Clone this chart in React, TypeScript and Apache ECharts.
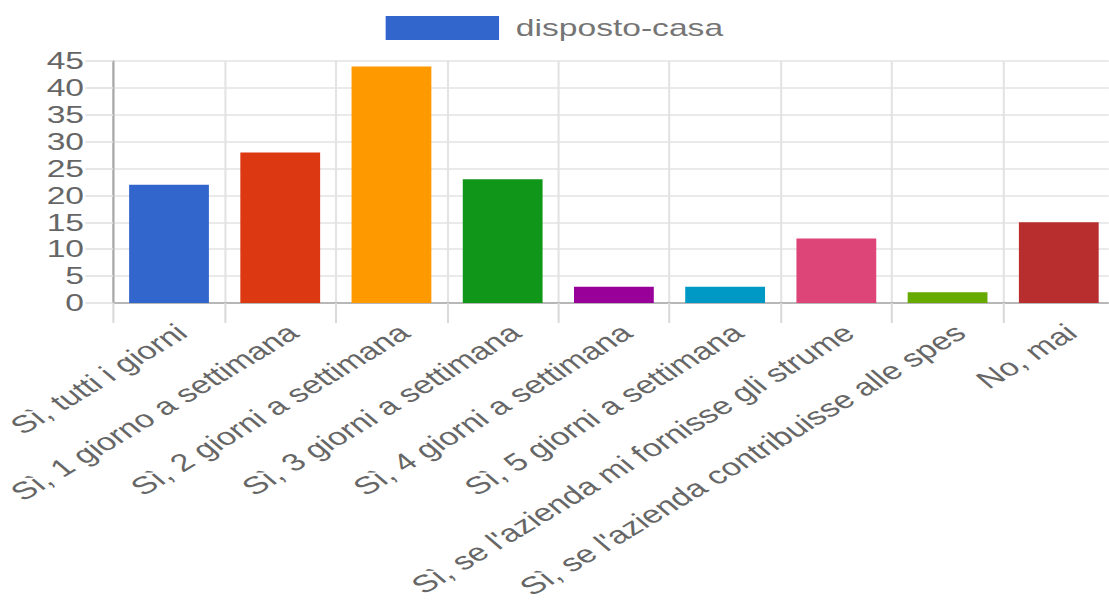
import React, { useEffect, useRef } from "react";
import * as echarts from "echarts";

const categories = [
  "Sì, tutti i giorni",
  "Sì, 1 giorno a settimana",
  "Sì, 2 giorni a settimana",
  "Sì, 3 giorni a settimana",
  "Sì, 4 giorni a settimana",
  "Sì, 5 giorni a settimana",
  "Sì, se l'azienda mi fornisse gli strume",
  "Sì, se l'azienda contribuisse alle spes",
  "No, mai",
];
const values = [22, 28, 44, 23, 3, 3, 12, 2, 15];
const colors = [
  "#3366cc",
  "#dc3912",
  "#ff9900",
  "#109618",
  "#990099",
  "#0099c6",
  "#dd4477",
  "#66aa00",
  "#b82e2e",
];
const seriesName = "disposto-casa";

const STRETCH = 1.4;
const W = 1109;
const H = 602;
const FONT = "'Liberation Sans', Arial, sans-serif";

export default function App() {
  const ref = useRef<HTMLDivElement>(null);
  useEffect(() => {
    if (!ref.current) return;
    const chart = echarts.init(ref.current, undefined, { renderer: "svg" });
    chart.setOption({
      animation: false,
      legend: {
        show: true,
        top: 11,
        left: "center",
        itemWidth: 81,
        itemHeight: 24,
        itemGap: 12,
        icon: "rect",
        textStyle: { fontFamily: FONT, fontSize: 24, color: "#757575", padding: [0, 0, 0, 7] },
        data: [{ name: seriesName, itemStyle: { color: colors[0] } }],
      },
      grid: [
        { left: 81, right: -4, top: 61, bottom: 299, containLabel: false, outerBoundsMode: "none" },
        // label-only grid, shifted slightly right so the slanted labels sit like the reference
        { left: 90, right: -13, top: 61, bottom: 299, containLabel: false, outerBoundsMode: "none" },
      ],
      xAxis: [
        {
          type: "category",
          gridIndex: 0,
          data: categories,
          axisLine: { show: true, lineStyle: { color: "#a6a6a6", width: 1.5 } },
          axisTick: { show: true, interval: 0, length: 20, lineStyle: { color: "#dadada", width: 1.5 } },
          splitLine: { show: true, interval: 0, lineStyle: { color: "#e3e3e3", width: 1.5 } },
          axisLabel: { show: false, interval: 0 },
        },
        {
          type: "category",
          gridIndex: 1,
          data: categories,
          axisLine: { show: false },
          axisTick: { show: false },
          splitLine: { show: false },
          axisLabel: {
            rotate: 40,
            margin: 26,
            interval: 0,
            fontFamily: FONT,
            fontSize: 24.5,
            color: "#666666",
          },
        },
      ],
      yAxis: [
        {
          type: "value",
          gridIndex: 0,
          min: 0,
          max: 45,
          interval: 5,
          axisLine: { show: true, lineStyle: { color: "#a6a6a6", width: 1.5 } },
          axisTick: { show: true, length: 20, lineStyle: { color: "#dedede", width: 1.5 } },
          splitLine: { show: true, lineStyle: { color: "#e3e3e3", width: 1.5 } },
          axisLabel: {
            margin: 21,
            fontFamily: FONT,
            fontSize: 24,
            color: "#666666",
          },
        },
        {
          type: "value",
          gridIndex: 1,
          min: 0,
          max: 45,
          interval: 5,
          show: false,
        },
      ],
      series: [
        {
          name: seriesName,
          type: "bar",
          xAxisIndex: 0,
          yAxisIndex: 0,
          barWidth: 57,
          data: values.map((v, i) => ({ value: v, itemStyle: { color: colors[i] } })),
        },
      ],
    });
    return () => chart.dispose();
  }, []);
  return (
    <div
      style={{
        position: "absolute",
        left: 0,
        top: 0,
        width: W,
        height: H,
        overflow: "hidden",
        background: "#ffffff",
      }}
    >
      <div
        ref={ref}
        style={{
          width: W / STRETCH,
          height: H,
          transform: `scaleX(${STRETCH})`,
          transformOrigin: "0 0",
        }}
      />
    </div>
  );
}
